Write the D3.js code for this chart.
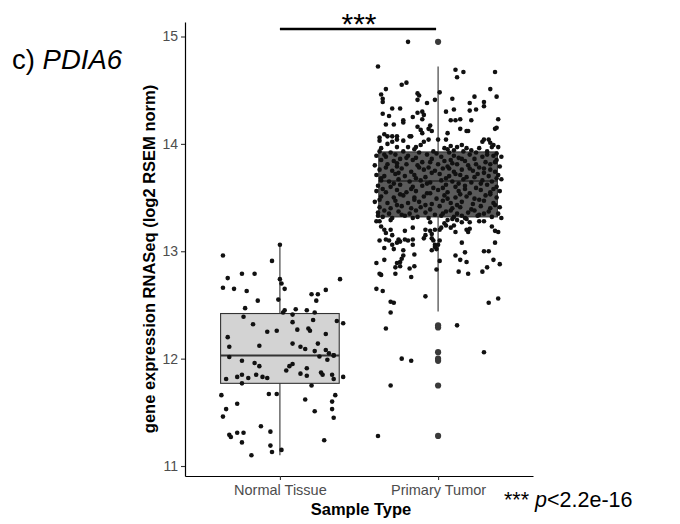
<!DOCTYPE html>
<html>
<head>
<meta charset="utf-8">
<script src="https://cdn.jsdelivr.net/npm/d3@7"></script>
<style>
  body { margin: 0; background: #fff; }
  text { font-family: "Liberation Sans", Arial, sans-serif; }
</style>
</head>
<body>
<div id="chart"></div>
<script>
// categories and box statistics
var groups = ["Normal Tissue", "Primary Tumor"];
var q1 = [11.77, 13.32];
var medians = [12.03, 13.655];
var q3 = [12.42, 13.925];
var whiskerLow = [11.10, 12.44];
var whiskerHigh = [13.06, 14.72];
var tumorOutliers = [14.95, 12.31, 12.29, 12.06, 12.00, 11.98, 11.75, 11.28];
var yTicks = [11, 12, 13, 14, 15];
var sigLevel = 15.07;

// jittered samples: [offset in category units, value]
var normalPoints = [
  [-0.36,12.96],[0.00,13.06],[-0.05,12.91],[-0.33,12.75],[-0.24,12.79],[-0.16,12.79],[-0.36,12.66],[-0.29,12.65],
  [-0.21,12.63],[0.00,12.74],[0.01,12.70],[0.03,12.65],[0.38,12.74],[-0.14,12.54],[-0.01,12.55],[0.20,12.60],
  [0.24,12.60],[0.29,12.64],[0.23,12.54],[-0.22,12.47],[0.02,12.43],[0.03,12.45],[0.10,12.46],[0.17,12.45],
  [0.22,12.43],[0.08,12.41],[-0.23,12.39],[-0.17,12.32],[0.08,12.34],[0.21,12.36],[0.36,12.35],[0.40,12.33],
  [-0.08,12.25],[-0.02,12.26],[0.11,12.27],[0.18,12.28],[0.19,12.26],[0.29,12.23],[-0.33,12.20],[-0.32,12.11],
  [-0.13,12.12],[0.08,12.14],[0.13,12.11],[0.16,12.09],[0.24,12.14],[0.22,12.07],[0.29,12.08],[0.31,12.05],
  [0.34,12.03],[-0.32,12.015],[0.25,12.02],[0.34,12.03],[0.30,11.99],[-0.24,11.98],[-0.16,11.96],[-0.13,11.93],
  [0.08,11.95],[0.06,11.93],[0.04,11.89],[0.17,11.91],[-0.27,11.83],[-0.24,11.85],[-0.20,11.82],[-0.15,11.85],
  [-0.11,11.83],[-0.08,11.82],[0.13,11.86],[0.17,11.84],[0.26,11.87],[0.27,11.85],[0.33,11.85],[0.34,11.81],
  [0.40,11.83],[-0.34,11.81],[-0.24,11.77],[0.20,11.75],[-0.37,11.66],[-0.07,11.67],[-0.02,11.67],[0.35,11.66],
  [-0.27,11.58],[0.16,11.62],[0.33,11.60],[-0.34,11.53],[-0.36,11.46],[0.22,11.51],[0.33,11.53],[0.34,11.45],
  [-0.12,11.37],[-0.32,11.29],[-0.31,11.27],[-0.27,11.31],[-0.23,11.31],[-0.06,11.32],[-0.24,11.22],[0.28,11.24],
  [-0.06,11.19],[-0.05,11.13],[-0.18,11.10],[0.01,11.15]
];

var tumorUpper = [
  [-0.19,14.95],[-0.38,14.72],[0.11,14.69],[0.16,14.67],[0.12,14.62],[0.36,14.67],[-0.23,14.55],[-0.20,14.57],
  [-0.33,14.51],[-0.36,14.46],[-0.35,14.42],[-0.35,14.39],[-0.13,14.47],[-0.12,14.45],[-0.13,14.41],[-0.07,14.38],
  [-0.02,14.41],[0.01,14.48],[0.09,14.42],[0.23,14.44],[0.29,14.39],[0.29,14.35],[0.33,14.51],[0.37,14.44],
  [0.20,14.38],[-0.29,14.33],[-0.24,14.33],[-0.35,14.28],[-0.31,14.26],[-0.22,14.22],[-0.22,14.20],[-0.16,14.25],
  [-0.13,14.29],[-0.10,14.30],[-0.09,14.27],[-0.10,14.23],[0.05,14.30],[0.10,14.32],[0.08,14.22],[0.11,14.22],
  [0.14,14.23],[0.20,14.31],[0.24,14.32],[0.21,14.22],[0.38,14.23],[-0.28,14.18],[-0.33,14.18],[-0.13,14.16],
  [-0.11,14.13],[-0.05,14.17],[-0.06,14.14],[-0.04,14.12],[-0.17,14.07],[-0.10,14.10],[0.14,14.14],[0.18,14.12],
  [0.19,14.12],[0.06,14.10],[0.36,14.14],[0.37,14.15],[-0.34,14.09],[-0.32,14.07],[-0.29,14.07],[-0.26,14.07],
  [-0.37,14.06],[-0.37,14.03],[-0.32,14.00],[-0.29,14.02],[-0.26,14.04],[-0.22,14.03],[-0.18,14.07],[-0.14,13.97],
  [-0.11,13.99],[-0.09,14.02],[-0.06,14.04],[0.00,14.04],[0.05,14.04],[0.08,13.98],[0.12,13.97],[0.15,13.99],
  [0.28,14.02],[0.29,14.04],[0.32,14.04],[0.33,14.01],[0.35,13.99],[0.38,13.97],[0.34,13.97],[0.26,13.96],
  [-0.36,13.96],[-0.26,13.97],[-0.19,13.97],[-0.15,13.95],[0.04,13.96],[0.06,13.95],[0.10,13.94],[0.18,13.96],
  [0.21,13.94]
];

var tumorBox = [
  [-0.37,13.93],[-0.30,13.92],[-0.22,13.93],[-0.12,13.92],[-0.03,13.93],[0.07,13.92],[0.16,13.93],[0.24,13.92],[0.31,13.93],[0.37,13.91],
  [-0.39,13.89],[-0.33,13.88],[-0.27,13.90],[-0.19,13.89],[-0.14,13.87],[-0.07,13.90],[0.02,13.88],[0.10,13.89],[0.13,13.87],[0.20,13.90],[0.28,13.88],[0.35,13.89],[0.40,13.88],
  [-0.36,13.85],[-0.28,13.84],[-0.24,13.86],[-0.16,13.85],[-0.10,13.83],[-0.04,13.86],[0.04,13.84],[0.08,13.85],[0.17,13.84],[0.23,13.86],[0.30,13.83],[0.37,13.85],
  [-0.40,13.80],[-0.32,13.81],[-0.26,13.79],[-0.20,13.81],[-0.13,13.80],[-0.06,13.78],[0.00,13.81],[0.06,13.79],[0.12,13.81],[0.19,13.80],[0.26,13.78],[0.33,13.81],[0.39,13.79],
  [-0.37,13.76],[-0.29,13.75],[-0.23,13.77],[-0.17,13.74],[-0.09,13.76],[-0.02,13.75],[0.03,13.77],[0.10,13.74],[0.15,13.76],[0.22,13.75],[0.29,13.77],[0.36,13.74],
  [-0.39,13.71],[-0.34,13.70],[-0.27,13.72],[-0.21,13.70],[-0.15,13.71],[-0.08,13.69],[0.01,13.72],[0.07,13.70],[0.14,13.71],[0.18,13.69],[0.25,13.72],[0.32,13.70],[0.38,13.71],
  [-0.36,13.66],[-0.31,13.65],[-0.25,13.67],[-0.18,13.65],[-0.11,13.66],[-0.05,13.64],[0.02,13.66],[0.09,13.65],[0.16,13.67],[0.21,13.64],[0.28,13.66],[0.34,13.65],[0.40,13.67],
  [-0.38,13.61],[-0.30,13.60],[-0.24,13.62],[-0.16,13.60],[-0.10,13.61],[-0.03,13.59],[0.05,13.62],[0.11,13.60],[0.17,13.61],[0.24,13.59],[0.31,13.62],[0.37,13.60],
  [-0.39,13.56],[-0.33,13.55],[-0.26,13.57],[-0.20,13.55],[-0.14,13.56],[-0.07,13.54],[0.00,13.57],[0.06,13.55],[0.13,13.56],[0.20,13.54],[0.27,13.57],[0.33,13.55],[0.39,13.56],
  [-0.36,13.51],[-0.28,13.50],[-0.22,13.52],[-0.15,13.50],[-0.09,13.51],[-0.01,13.49],[0.04,13.52],[0.11,13.50],[0.18,13.51],[0.23,13.49],[0.30,13.52],[0.37,13.50],
  [-0.40,13.46],[-0.32,13.45],[-0.27,13.47],[-0.19,13.45],[-0.12,13.46],[-0.04,13.44],[0.03,13.47],[0.08,13.45],[0.15,13.46],[0.22,13.44],[0.29,13.47],[0.35,13.45],
  [-0.37,13.41],[-0.30,13.40],[-0.23,13.42],[-0.17,13.40],[-0.11,13.41],[-0.05,13.39],[0.01,13.42],[0.09,13.40],[0.14,13.41],[0.21,13.39],[0.27,13.42],[0.33,13.40],[0.39,13.41],
  [-0.38,13.36],[-0.31,13.35],[-0.25,13.37],[-0.18,13.35],[-0.08,13.36],[-0.02,13.34],[0.05,13.37],[0.12,13.35],[0.19,13.36],[0.26,13.34],[0.32,13.37],[0.38,13.35],
  [-0.35,13.32],[-0.29,13.31],[-0.21,13.33],[-0.13,13.32],[-0.06,13.31],[0.02,13.33],[0.10,13.32],[0.17,13.31],[0.25,13.33],[0.34,13.32],[0.40,13.31],
  [-0.34,13.90],[-0.20,13.87],[-0.01,13.91],[0.15,13.86],[0.31,13.90],[-0.26,13.82],[-0.05,13.83],[0.09,13.82],[0.24,13.81],[0.36,13.83],
  [-0.33,13.78],[-0.12,13.78],[0.07,13.77],[0.20,13.77],[0.33,13.76],[-0.25,13.73],[-0.04,13.73],[0.11,13.72],[0.29,13.73],[-0.36,13.68],
  [-0.14,13.68],[0.05,13.68],[0.23,13.69],[0.37,13.68],[-0.28,13.63],[-0.07,13.63],[0.13,13.63],[0.27,13.63],[-0.35,13.58],[-0.17,13.58],
  [0.03,13.59],[0.17,13.58],[0.35,13.58],[-0.24,13.53],[-0.05,13.54],[0.14,13.53],[0.33,13.53],[-0.37,13.48],[-0.15,13.48],[0.06,13.49],
  [0.26,13.48],[-0.26,13.43],[-0.08,13.43],[0.12,13.43],[0.36,13.43],[-0.34,13.38],[-0.14,13.38],[0.08,13.38],[0.23,13.38],[-0.23,13.34],
  [0.03,13.35],[0.29,13.35],[0.15,13.33],[-0.38,13.33]
];

var tumorLower = [
  [-0.39,13.28],[-0.37,13.28],[-0.30,13.29],[-0.16,13.31],[-0.05,13.27],[0.04,13.26],[0.06,13.29],[0.09,13.30],
  [0.12,13.29],[0.15,13.27],[0.18,13.30],[0.20,13.27],[0.26,13.28],[0.29,13.28],[0.34,13.23],[0.38,13.18],
  [-0.36,13.23],[-0.34,13.20],[-0.33,13.17],[-0.30,13.20],[-0.29,13.15],[-0.21,13.19],[-0.16,13.22],[-0.08,13.20],
  [-0.08,13.15],[-0.05,13.19],[-0.04,13.16],[-0.02,13.20],[0.01,13.20],[0.02,13.22],[0.05,13.24],[0.08,13.22],
  [0.10,13.24],[0.11,13.18],[0.18,13.20],[0.19,13.18],[0.20,13.21],[0.36,13.19],[-0.37,13.10],[-0.33,13.11],
  [-0.31,13.10],[-0.25,13.11],[-0.24,13.09],[-0.21,13.11],[-0.19,13.10],[-0.16,13.11],[-0.16,13.06],[-0.26,13.08],
  [-0.29,13.06],[-0.28,13.02],[-0.34,13.03],[-0.09,13.12],[-0.04,13.12],[-0.03,13.10],[-0.02,13.06],[0.00,13.06],
  [0.01,13.10],[0.15,13.08],[0.36,13.08],[-0.22,13.01],[-0.04,13.01],[-0.01,13.02],[-0.02,13.04],[-0.22,12.96],
  [-0.15,12.97],[0.17,12.99],[0.29,13.00],[0.32,13.00],[0.11,12.96],[-0.34,12.92],[-0.23,12.93],[-0.24,12.90],
  [-0.26,12.89],[-0.39,12.89],[-0.27,12.85],[-0.24,12.86],[0.01,12.91],[-0.01,12.83],[-0.18,12.84],[-0.15,12.86],
  [0.14,12.92],[0.18,12.90],[0.35,12.92],[0.39,12.88],[0.31,12.85],[0.13,12.81],[0.19,12.79],[0.28,12.81],
  [-0.37,12.79],[-0.36,12.78],[-0.27,12.79],[-0.17,12.76],[-0.39,12.65],[-0.35,12.63],[-0.08,12.58],[-0.30,12.53],
  [-0.28,12.52],[-0.30,12.43],[0.32,12.52],[0.38,12.56],[-0.33,12.28],[0.12,12.31],[-0.23,12.00],[-0.17,11.98],
  [0.29,12.06],[-0.30,11.75],[-0.38,11.28]
];

var margin = {top: 22, right: 147, bottom: 48, left: 185},
    width = 680 - margin.left - margin.right,
    height = 524 - margin.top - margin.bottom;

var x = d3.scalePoint().domain(groups).range([0, width]).padding(0.6);
var y = d3.scaleLinear().domain([10.907, 15.135]).range([height, 0]);
var step = x.step();
var boxW = 0.75 * step;

var svgRoot = d3.select("#chart").append("svg")
    .attr("width", 680)
    .attr("height", 524);

var svg = svgRoot.append("g")
    .attr("transform", "translate(" + margin.left + "," + margin.top + ")");

var boxes = groups.map(function(g, i) {
  return {group: g, q1: q1[i], med: medians[i], q3: q3[i], lo: whiskerLow[i], hi: whiskerHigh[i]};
});
var boxFill = ["#d3d3d3", "#5b5b5b"];

// whiskers
svg.selectAll(".whisker")
    .data(boxes)
    .enter().append("line")
    .attr("x1", function(d) { return x(d.group); })
    .attr("x2", function(d) { return x(d.group); })
    .attr("y1", function(d) { return y(d.lo); })
    .attr("y2", function(d) { return y(d.hi); })
    .attr("stroke", "#333")
    .attr("stroke-width", 1.1);

// boxes
svg.selectAll(".box")
    .data(boxes)
    .enter().append("rect")
    .attr("x", function(d) { return x(d.group) - boxW / 2; })
    .attr("width", boxW)
    .attr("y", function(d) { return y(d.q3); })
    .attr("height", function(d) { return y(d.q1) - y(d.q3); })
    .attr("fill", function(d, i) { return boxFill[i]; })
    .attr("stroke", "#333")
    .attr("stroke-width", 1.1);

svg.selectAll(".median")
    .data(boxes)
    .enter().append("line")
    .attr("x1", function(d) { return x(d.group) - boxW / 2; })
    .attr("x2", function(d) { return x(d.group) + boxW / 2; })
    .attr("y1", function(d) { return y(d.med); })
    .attr("y2", function(d) { return y(d.med); })
    .attr("stroke", "#333")
    .attr("stroke-width", 2);

// outliers from the boxplot layer
svg.selectAll(".outlier")
    .data(tumorOutliers)
    .enter().append("circle")
    .attr("cx", x(groups[1]))
    .attr("cy", function(d) { return y(d); })
    .attr("r", 3.1)
    .attr("fill", "#3a3a3a");

// jittered points on top
var jitter = normalPoints.map(function(p) { return {g: groups[0], o: p[0], v: p[1]}; })
  .concat(tumorUpper.concat(tumorBox, tumorLower).map(function(p) { return {g: groups[1], o: p[0], v: p[1]}; }));

svg.selectAll(".pt")
    .data(jitter)
    .enter().append("circle")
    .attr("cx", function(d) { return x(d.g) + d.o * step; })
    .attr("cy", function(d) { return y(d.v); })
    .attr("r", 2.3)
    .attr("fill", "#111");

// axes
var yAxis = d3.axisLeft(y).tickValues(yTicks).tickFormat(d3.format("d"))
    .tickSize(4).tickSizeOuter(0).tickPadding(3);
var xAxis = d3.axisBottom(x).tickSize(4).tickSizeOuter(0).tickPadding(5);

var gy = svg.append("g").attr("class", "y axis").call(yAxis);
var gx = svg.append("g").attr("class", "x axis")
    .attr("transform", "translate(0," + height + ")")
    .call(xAxis);

[gy, gx].forEach(function(g) {
  g.select(".domain").attr("stroke", "#000").attr("stroke-width", 1.2);
  g.selectAll(".tick line").attr("stroke", "#333").attr("stroke-width", 1.1);
  g.selectAll(".tick text")
    .attr("fill", "#4d4d4d")
    .style("font-family", "'Liberation Sans', Arial, sans-serif");
});
gy.selectAll(".tick text").style("font-size", "14px");
gx.selectAll(".tick text").style("font-size", "14.5px");

// axis titles
svg.append("text")
    .attr("transform", "rotate(-90)")
    .attr("x", -237)
    .attr("y", -30)
    .style("text-anchor", "middle")
    .style("font-size", "16.5px")
    .style("font-weight", "bold")
    .text("gene expression RNASeq (log2 RSEM norm)");

svg.append("text")
    .attr("x", width / 2 + 2)
    .attr("y", height + 39)
    .style("text-anchor", "middle")
    .style("font-size", "16.5px")
    .style("font-weight", "bold")
    .text("Sample Type");

// significance bar
svg.append("line")
    .attr("x1", x(groups[0]))
    .attr("x2", x(groups[1]) - 2)
    .attr("y1", y(sigLevel))
    .attr("y2", y(sigLevel))
    .attr("stroke", "#000")
    .attr("stroke-width", 2.6);

svg.append("text")
    .attr("x", (x(groups[0]) + x(groups[1])) / 2)
    .attr("y", y(sigLevel) + 5)
    .style("text-anchor", "middle")
    .style("font-size", "30px")
    .text("***");

// panel label
var lab = svgRoot.append("text")
    .attr("x", 12)
    .attr("y", 69)
    .style("font-size", "27.5px");
lab.append("tspan").text("c) ");
lab.append("tspan").style("font-style", "italic").text("PDIA6");

// p-value note
var note = svgRoot.append("text")
    .attr("x", 504)
    .attr("y", 507)
    .style("font-size", "21.5px");
note.append("tspan").text("*** ");
note.append("tspan").style("font-style", "italic").text("p");
note.append("tspan").text("<2.2e-16");
</script>
</body>
</html>
